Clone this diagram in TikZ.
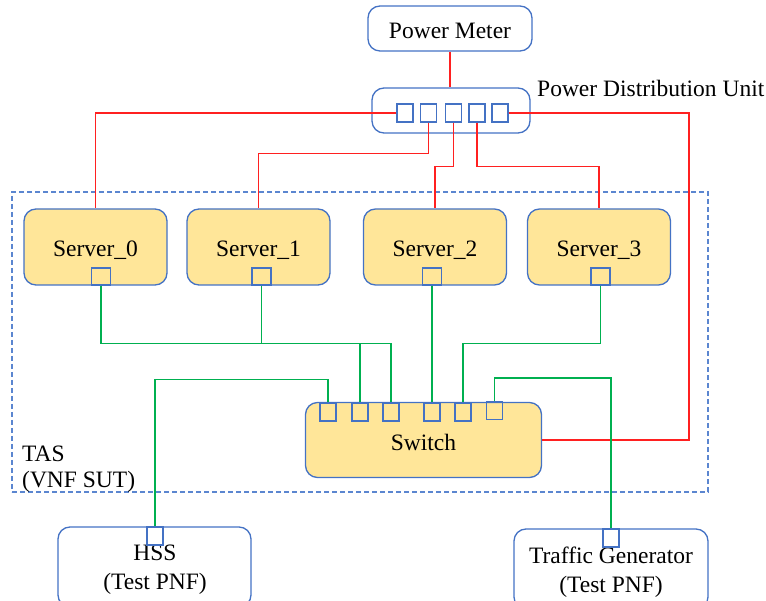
\documentclass[tikz,border=0pt]{standalone}
\usepackage{fontspec}
\setmainfont{Liberation Serif}
\definecolor{bblue}{HTML}{4472C4}
\definecolor{dblue}{HTML}{5B86D0}
\definecolor{yfill}{HTML}{FFE699}
\definecolor{rline}{HTML}{FF2020}
\definecolor{gline}{HTML}{00B050}
\begin{document}
\begin{tikzpicture}[x=1pt,y=-1pt,
  lbl/.style={font=\fontsize{23.5}{28}\selectfont,text=black,align=center},
  inlbl/.style={lbl,text height=20pt,text depth=0pt},
  box/.style={draw=bblue,line width=1.3pt,rounded corners=12pt,inner sep=0pt},
  srv/.style={box,fill=yfill},
  port/.style={draw=bblue,line width=1.3pt,minimum width=16pt,minimum height=18pt,inner sep=0pt},
  sport/.style={port,minimum width=19pt,minimum height=17pt},
  pw/.style={draw=rline,line width=1.25pt},
  net/.style={draw=gline,line width=1.25pt}]
\useasboundingbox (0,0) rectangle (766,601);
\clip (0,0) rectangle (766,601);
% TAS dashed frame
\node[draw=dblue,line width=1.2pt,dash pattern=on 5pt off 3pt,minimum width=696pt,minimum height=300pt,inner sep=0pt] (tas) at (360,342) {};
\node[lbl,anchor=north west,align=left,inner sep=0pt,font=\fontsize{23.5}{26}\selectfont] (taslbl) at (22,446) {TAS\\(VNF SUT)};
% Power meter and PDU
\node[box,inlbl,minimum width=164pt,minimum height=45pt] (pm) at (450,28.5) {Power Meter};
\node[box,minimum width=158pt,minimum height=45pt] (pdu) at (451,110.5) {};
\node[lbl,anchor=base west,inner sep=0pt] (pdulbl) at (537,97) {Power Distribution Unit};
\node[port] (pp0) at (405,113) {};
\node[port] (pp1) at (428.5,113) {};
\node[port] (pp2) at (453.5,113) {};
\node[port] (pp3) at (477,113) {};
\node[port] (pp4) at (500,113) {};
% Servers
\node[srv,inlbl,minimum width=143pt,minimum height=76pt] (s0) at (95.5,247) {Server\_0};
\node[srv,inlbl,minimum width=143pt,minimum height=76pt] (s1) at (258.5,247) {Server\_1};
\node[srv,inlbl,minimum width=143pt,minimum height=76pt] (s2) at (435,247) {Server\_2};
\node[srv,inlbl,minimum width=143pt,minimum height=76pt] (s3) at (599,247) {Server\_3};
\node[sport] (s0p) at (101,276.5) {};
\node[sport] (s1p) at (261.5,276.5) {};
\node[sport] (s2p) at (432,276.5) {};
\node[sport] (s3p) at (600.5,276.5) {};
% Switch
\node[srv,minimum width=236pt,minimum height=75pt] (sw) at (423.5,440) {};
\node[inlbl,inner sep=0pt] (swl) at (423.5,440) {Switch};
\node[port] (sw0) at (328,412) {};
\node[port] (sw1) at (360,412) {};
\node[port] (sw2) at (391,412) {};
\node[port] (sw3) at (432,412) {};
\node[port] (sw4) at (463,412) {};
\node[port] (sw5) at (494.5,410.7) {};
% Test PNFs
\node[box,minimum width=193pt,minimum height=80pt] (hss) at (154.5,567) {};
\node[lbl,inner sep=0pt,font=\fontsize{23.5}{29}\selectfont] (hssl) at (155,570) {HSS\\(Test PNF)};
\node[port] (hp) at (155,536) {};
\node[box,minimum width=194pt,minimum height=80pt] (tg) at (611,569) {};
\node[lbl,inner sep=0pt,font=\fontsize{23.5}{29}\selectfont] (tgl) at (611,572) {Traffic Generator\\(Test PNF)};
\node[port] (tp) at (611,538) {};
\coordinate (rc) at (689,440);
% Power connections
\draw[pw] (pm.south) -- (pm.south |- pdu.north);
\draw[pw] (pp0.west) -| (s0.north);
\draw[pw] (pp1.south) -- ++(0,31) -| (s1.north);
\draw[pw] (pp2.south) -- ++(0,44) -| (s2.north);
\draw[pw] (pp3.south) -- ++(0,44) -| (s3.north);
\draw[pw] (pp4.east) -| (rc) -- (sw.east);
% Network connections
\draw[net] (s0p.south) -- ++(0,58) -| (sw1.north);
\draw[net] (s1p.south) -- ++(0,58) -| (sw2.north);
\draw[net] (s2p.south) -- (s2p.south |- sw3.north);
\draw[net] (s3p.south) -- ++(0,58) -| (sw4.north);
\draw[net] (sw0.north) -- ++(0,-23) -| (hp.north);
\draw[net] (sw5.north) -- ++(0,-23) -| (tp.north);
\end{tikzpicture}
\end{document}
